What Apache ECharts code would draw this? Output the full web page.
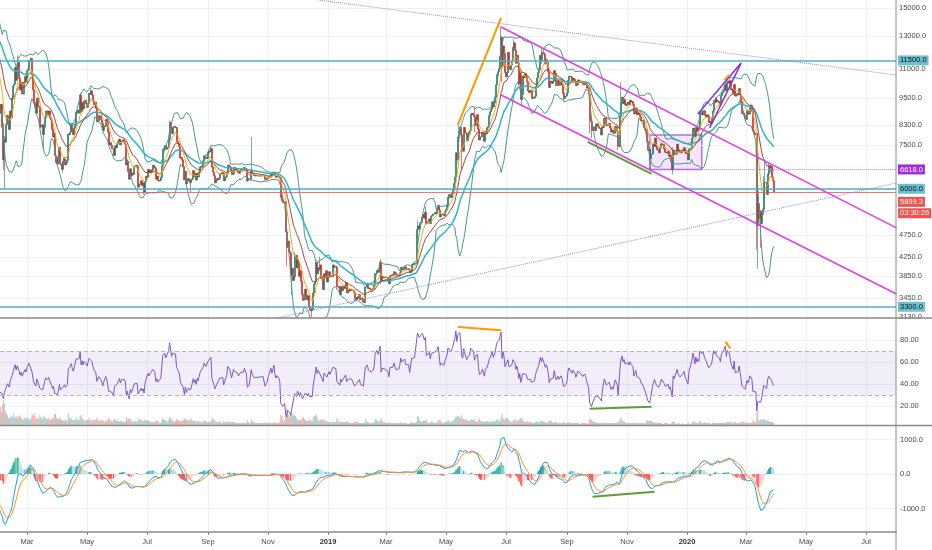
<!DOCTYPE html>
<html><head><meta charset="utf-8">
<script src="https://cdn.jsdelivr.net/npm/echarts@6/dist/echarts.min.js"></script>
<style>html,body{margin:0;padding:0;background:#fff;overflow:hidden}#c{width:932px;height:550px}</style>
</head><body><div id="c"></div><script>
// ---------------- DATA (BTC/USD daily, read/estimated from the chart) ----------------
// warm-up closes before the visible window (needed for the moving averages / RSI / MACD)
const closeDec2017 = [10850,10950,11250,11600,11700,13700,16900,16300,14900,15200,16700,17200,16400,16500,17600,19400,19100,18900,17500,16500,15600,13800,14600,13900,13900,15800,15400,14400,14400,12600,13900];
// daily closes, one inner array per month
const close2018 = [
 [13400,14750,15150,15180,16900,17100,16200,14900,14400,14900,13300,13800,14200,13600,13600,11400,11200,11500,11800,12900,11600,10900,11000,11400,11200,11100,11500,11800,11300,10100,10200],
 [9200,8800,9200,8200,6950,7700,7600,8300,8700,8600,8100,8900,8600,9500,10100,10200,11100,10400,11100,11400,10500,9900,10300,9700,9700,10300,10600,10300],
 [10900,11000,11500,11500,11600,10700,9900,9300,9200,8800,9500,9100,9100,8200,8250,8300,7900,8200,8600,8900,8900,8700,8900,8600,8500,8100,7800,7950,7100,6850,6950],
 [6800,7050,7400,6800,6780,6620,6900,7020,6770,6830,6930,7920,7890,8000,8360,8060,7890,8160,8280,8850,8920,8800,8950,9650,8870,9280,8990,9350,9390,9240],
 [9070,9220,9740,9700,9860,9650,9370,9190,9310,9010,8420,8470,8690,8680,8500,8350,8060,8250,8240,8520,8400,8000,7500,7580,7480,7350,7350,7100,7460,7380,7490],
 [7530,7640,7720,7500,7630,7650,7690,7620,7520,6770,6900,6550,6300,6640,6400,6500,6450,6710,6740,6760,6720,6050,6130,6150,6250,6090,6160,5900,6220,6400],
 [6360,6620,6510,6600,6530,6600,6760,6710,6660,6300,6390,6250,6240,6270,6360,6740,7320,7380,7470,7330,7400,7400,7720,8400,8170,7940,8180,8230,8210,8180,7730],
 [7620,7540,7420,7010,7030,6940,6720,6280,6550,6150,6240,6320,6260,6190,6270,6310,6580,6390,6490,6270,6480,6370,6530,6700,6730,6690,6900,7090,7040,6980,7020],
 [7190,7270,7260,7360,6700,6530,6410,6180,6250,6320,6280,6330,6490,6480,6520,6500,6250,6340,6380,6490,6770,6720,6700,6590,6450,6470,6690,6630,6590,6620],
 [6590,6520,6490,6590,6630,6590,6600,6680,6650,6580,6260,6290,6300,6300,6600,6490,6480,6420,6400,6420,6420,6400,6400,6420,6400,6410,6420,6410,6280,6290,6320],
 [6370,6390,6360,6480,6420,6470,6530,6420,6360,6390,6380,6360,6310,5740,5650,5600,5580,5620,4820,4460,4600,4370,4330,3880,4010,3770,3840,4260,4280,4020],
 [4200,4140,3850,3960,3760,3510,3410,3420,3610,3500,3420,3490,3300,3240,3230,3250,3540,3700,3750,4130,3900,4020,3990,4080,3810,3830,3600,3900,3830,3960,3740]
];
const close2019 = [
 [3850,3940,3840,3860,3840,4080,4030,4040,4040,3660,3660,3630,3510,3660,3580,3630,3670,3620,3730,3540,3560,3600,3580,3600,3590,3590,3550,3440,3410,3460,3440],
 [3470,3510,3420,3420,3440,3380,3370,3650,3650,3690,3620,3630,3610,3590,3600,3620,3670,3900,3910,3970,3930,3980,4140,3750,3840,3820,3820,3820],
 [3830,3830,3790,3710,3860,3870,3880,3870,3940,3920,3860,3880,3860,3870,3920,4030,3990,3980,4020,4040,3990,3990,4000,3990,3920,3940,4090,4080,4110,4110,4100],
 [4140,4880,4970,4900,5040,5060,5200,5270,5170,5330,5020,5060,5070,5150,5030,5220,5240,5280,5280,5320,5290,5400,5520,5390,5200,5270,5280,5270,5230,5350],
 [5400,5500,5750,5830,5780,5740,5860,5960,6160,6360,7200,6950,7800,7990,8200,7880,7360,7260,8190,7980,7950,7650,7880,7990,8060,8760,8800,8720,8660,8270,8550],
 [8560,8740,8120,7680,7790,7810,8000,7930,7630,8020,7920,8180,8230,8690,8860,8980,9320,9080,9270,9530,10160,10700,10860,11020,11760,12930,11160,12380,11910,10820],
 [10580,10800,11980,11150,10980,11230,11450,12290,12570,12100,11340,11800,11350,10200,10850,9430,9680,10630,10530,10760,10590,10320,9850,9770,9880,9840,9480,9530,9500,9590,10090],
 [10400,10520,10820,10980,11800,11470,11950,11960,11860,11290,11550,11380,10860,10020,10300,10360,10230,10340,10920,10770,10130,10130,10400,10140,10140,10370,10190,9720,9480,9580,9600],
 [9760,10390,10620,10590,10580,10320,10500,10440,10340,10120,10160,10420,10360,10360,10310,10260,10190,10160,10270,10180,9990,10030,9700,8530,8430,8060,8190,8210,8050,8310],
 [8300,8340,8220,8150,8150,7880,8210,8190,8590,8590,8270,8300,8280,8360,8160,8000,8080,7960,7950,8230,8220,8030,7470,7430,8660,9260,9550,9250,9430,9180,9150],
 [9250,9310,9190,9400,9310,9340,9200,8770,8810,9040,8730,8820,8760,8640,8460,8490,8500,8180,8120,8080,7620,7290,7320,6980,7150,7160,7530,7440,7760,7570],
 [7420,7320,7300,7200,7400,7540,7510,7520,7340,7220,7200,7190,7260,7070,7120,6880,6620,7290,7150,7190,7150,7520,7320,7250,7200,7200,7250,7320,7390,7220,7170]
];
const close2020 = [
 [7180,6950,7340,7350,7360,7760,8160,8050,7820,8200,8030,8190,8110,8820,8820,8720,8900,8910,8700,8630,8730,8680,8400,8440,8340,8600,8900,9390,9290,9510,9350],
 [9390,9340,9290,9180,9620,9750,9810,9910,10170,9860,10270,10360,10240,10370,9900,9930,9700,10180,9600,9610,9690,9670,9970,9650,9310,8790,8810,8710,8560],
 [8530,8910,8760,8760,9070,9150,8900,8040,7940,7890,7940,4970,5560,5170,5360,5030,5330,5410,6190,6190,6190,5830,6470,6740,6680,6730,6370,6250,5899.3]
];
// notable wicks: [date, high, low]
const wicks = [
 ['2018-02-05',8400,6600],['2018-02-06',7850,6000],['2018-02-20',11800,11100],['2018-03-05',11700,11400],
 ['2018-03-18',8300,7300],['2018-04-06',6900,6500],['2018-04-25',9750,8750],['2018-05-05',9990,9650],
 ['2018-06-28',6200,5830],['2018-07-24',8480,7700],['2018-08-14',6300,5880],['2018-09-04',7400,7230],
 ['2018-10-11',6600,6200],['2018-10-15',7800,6250],['2018-11-20',4860,4050],['2018-11-25',4100,3500],
 ['2018-11-28',4350,3800],['2018-12-15',3280,3130],['2018-12-20',4200,3700],['2018-12-24',4250,3950],
 ['2019-01-10',4060,3600],['2019-02-24',4200,3700],['2019-04-02',5100,4100],['2019-04-10',5470,5150],
 ['2019-05-14',8300,7600],['2019-05-17',7950,6600],['2019-05-30',9100,8000],['2019-06-26',13650,11400],
 ['2019-06-27',13000,10300],['2019-07-09',12800,12100],['2019-07-17',9900,9100],['2019-08-06',12300,11300],
 ['2019-08-29',9700,9320],['2019-09-24',9800,7950],['2019-09-26',8500,7750],['2019-10-23',8050,7300],
 ['2019-10-26',10300,8950],['2019-11-25',7350,6550],['2019-12-18',7400,6450],['2020-01-14',8880,8100],
 ['2020-02-13',10500,10100],['2020-03-07',9200,8850],['2020-03-12',7970,4400],['2020-03-13',5950,4000],
 ['2020-03-16',5380,4450],['2020-03-19',6400,5250],['2020-03-20',6880,5700],['2020-03-24',6850,6400],
 ['2020-03-26',6790,6520]
];
// daily volume (relative units), from Feb 2018
const volume2018 = [
 [30,36,24,40,50,44,26,24,20,14,14,16,14,18,22,14,16,18,14,16,20,18,14,12,10,14,14,12],
 [16,12,12,10,14,20,22,18,24,12,14,14,12,20,16,14,12,18,16,14,12,12,14,10,10,12,14,12,22,22,14],
 [12,12,14,12,10,10,8,8,12,8,8,24,14,12,14,10,10,10,10,16,12,10,10,18,20,14,12,10,8,10],
 [10,10,14,10,10,8,12,10,10,10,16,12,8,10,8,10,10,8,6,8,8,10,14,12,10,8,6,10,12,10,8],
 [8,8,6,8,8,6,6,6,6,16,10,12,14,12,8,6,6,8,8,8,6,14,10,12,12,8,8,10,10,10],
 [8,10,8,8,6,6,6,6,6,10,8,8,6,4,4,10,14,12,10,10,8,6,10,16,14,10,10,8,6,8,12],
 [10,8,8,8,6,8,10,14,10,12,10,8,10,14,12,8,10,8,6,8,8,8,6,8,6,4,6,10,8,8,6],
 [6,6,6,8,16,12,10,10,6,6,6,6,8,6,4,4,8,6,6,6,8,6,4,6,6,6,6,6,4,4],
 [4,4,4,4,4,4,4,4,4,4,10,6,4,4,12,8,6,6,4,4,4,4,4,4,4,4,4,4,6,4,4],
 [4,4,4,4,4,4,6,6,4,4,4,4,6,20,18,12,8,8,24,34,22,20,14,18,28,22,18,20,18,14],
 [10,8,12,10,10,14,16,12,10,8,8,8,10,12,8,8,16,18,18,22,16,10,8,10,12,10,10,12,8,8,8]
];
const volume2019 = [
 [6,6,6,6,4,8,6,6,6,14,10,6,6,8,6,6,6,6,6,8,6,6,4,4,4,4,4,8,6,6,6],
 [4,4,4,4,4,4,4,12,8,6,6,4,4,4,4,4,6,12,12,8,8,6,10,14,8,6,6,6],
 [4,4,4,6,6,4,4,4,4,4,4,4,4,4,4,6,4,4,4,4,4,4,2,2,4,4,6,4,4,4,4],
 [6,18,16,10,8,6,8,8,8,10,10,6,4,4,6,6,6,6,4,4,4,6,10,10,10,8,4,4,6,6],
 [6,6,10,8,6,6,8,8,10,12,18,16,18,18,14,14,20,12,12,12,10,10,10,8,8,10,12,10,8,12,8],
 [6,6,10,12,8,8,8,6,6,8,6,8,6,8,6,6,8,8,6,8,10,12,10,8,8,16,22,14,10,12],
 [14,14,12,10,8,6,6,8,10,10,12,8,8,10,12,14,14,10,8,6,6,6,8,6,6,6,6,4,4,4,6],
 [6,6,6,4,8,8,8,6,6,6,4,4,6,8,10,8,6,4,6,6,6,4,4,4,4,4,4,6,6,4,4],
 [4,6,6,4,4,4,4,4,4,4,4,4,4,2,2,4,4,4,4,4,4,2,4,14,10,10,8,6,6,6],
 [4,4,4,4,4,4,4,4,6,4,4,4,4,4,4,4,4,4,4,4,4,4,8,6,12,16,10,8,6,6,4],
 [4,4,4,4,4,4,4,6,4,4,4,4,4,4,4,4,4,4,4,4,8,10,8,8,10,8,6,6,4,4],
 [4,4,4,4,4,4,2,2,4,4,4,4,2,2,2,4,6,8,6,4,2,2,4,4,2,2,4,2,2,2,2]
];
const volume2020 = [
 [2,4,4,2,2,4,6,8,4,6,4,4,4,8,8,4,4,4,6,4,4,4,4,4,2,2,4,6,4,4,4],
 [4,4,4,4,4,4,4,4,4,6,6,6,6,6,6,4,4,6,6,4,4,4,4,4,6,8,6,6,4],
 [4,6,4,4,4,4,4,8,10,6,6,26,30,10,8,12,10,10,12,12,8,8,10,8,6,6,6,6,4]
];
// axis tick labels
const priceTicks = [15000,13000,11000,9500,8300,7500,6000,4750,4250,3850,3450,3130];
const rsiTicks = [20,40,60,80];
const macdTicks = [-1000,0,1000];
const monthTicks = ['2018-03-01','2018-05-01','2018-07-01','2018-09-01','2018-11-01','2019-01-01','2019-03-01','2019-05-01','2019-07-01','2019-09-01','2019-11-01','2020-01-01','2020-03-01','2020-05-01','2020-07-01'];
// horizontal levels and live price
const levelPrices = [11500, 6000, 3300];
const rangeLevel = 6618;
const lastPrice = 5899.3;
const countdown = '03:30:26';
// drawings (date, value)
const trendTopDotted = [['2018-12-22',15620],['2020-08-01',10680]];
const trendLowDotted = [['2018-11-10',3117],['2020-08-01',6180]];
const orangeRally = [['2019-05-13',8290],['2019-06-26',14260]];
const channelUpper = [['2019-06-26',13620],['2020-08-01',4920]];
const channelLower = [['2019-06-26',9650],['2020-08-01',3520]];
const greenPrice = [['2019-09-22',7610],['2019-11-26',6470]];
const rangeBox = [['2019-11-24',6618],['2020-01-16',7880]];
const wedgeUpper = [['2020-01-12',8765],['2020-02-25',11345]];
const wedgeLower = [['2020-01-24',8165],['2020-02-25',11345]];
const orangeSmall = [['2020-02-08',10420],['2020-02-13',10680]];
const rsiOrange = [['2019-05-13',91.8],['2019-06-26',89]];
const rsiGreen = [['2019-09-24',17.8],['2019-11-26',19.6]];
const rsiOrangeSmall = [['2020-02-09',78.5],['2020-02-14',72.5]];
const macdGreen = [['2019-09-27',-658],['2019-11-29',-513]];

// ---------------- BUILD ----------------
const MONTHS = ['Jan','Feb','Mar','Apr','May','Jun','Jul','Aug','Sep','Oct','Nov','Dec'];
const T = s => { const p = s.split('-').map(Number); return Date.UTC(p[0], p[1] - 1, p[2]); };
const X_MIN = Date.UTC(2018, 1, 1, 13);
const X_MAX = Date.UTC(2020, 6, 31, 12);
const FONT = 'Liberation Sans';
const FS = 7.5;
const LBL = '#4a4a4a';
const GRIDC = '#eef0f4';

const days = [];
function addMonths(year, firstMonth, months) {
  months.forEach((arr, k) => arr.forEach((c, i) => days.push({ t: Date.UTC(year, firstMonth + k, i + 1), c })));
}
addMonths(2017, 11, [closeDec2017]);
addMonths(2018, 0, close2018);
addMonths(2019, 0, close2019);
addMonths(2020, 0, close2020);
const n = days.length;
const closes = days.map(d => d.c);
const visStart = days.findIndex(d => d.t >= Date.UTC(2018, 1, 1));
const vols = [].concat(...volume2018, ...volume2019, ...volume2020);
const wickMap = {};
wicks.forEach(w => { wickMap[T(w[0])] = w; });

function ema(v, len) {
  const a = 2 / (len + 1); const out = []; let e = v[0];
  v.forEach((x, i) => { e = i === 0 ? x : a * x + (1 - a) * e; out.push(e); });
  return out;
}
const ema9 = ema(closes, 9), ema21 = ema(closes, 21), ema50 = ema(closes, 50);
const bbUp = [], bbLo = [];
for (let i = 0; i < n; i++) {
  if (i < 19) { bbUp.push(null); bbLo.push(null); continue; }
  let s = 0; for (let k = i - 19; k <= i; k++) s += closes[k];
  const m = s / 20; let q = 0; for (let k = i - 19; k <= i; k++) q += (closes[k] - m) ** 2;
  const sd = Math.sqrt(q / 20); bbUp.push(m + 2 * sd); bbLo.push(m - 2 * sd);
}
const rsi = new Array(n).fill(null);
{ let ag = 0, al = 0;
  for (let i = 1; i < n; i++) {
    const ch = closes[i] - closes[i - 1]; const g = Math.max(ch, 0), l = Math.max(-ch, 0);
    if (i <= 14) { ag += g / 14; al += l / 14; if (i < 14) continue; }
    else { ag = (ag * 13 + g) / 14; al = (al * 13 + l) / 14; }
    rsi[i] = al === 0 ? 100 : 100 - 100 / (1 + ag / al);
  } }
const e12 = ema(closes, 12), e26 = ema(closes, 26);
const macd = e12.map((v, i) => v - e26[i]);
const sig = ema(macd, 9);
const hist = macd.map((v, i) => v - sig[i]);

const s0 = visStart - 1;
const pick = arr => { const out = []; for (let i = s0; i < n; i++) out.push([days[i].t, arr[i]]); return out; };

const candles = [], volBars = [], histBars = [];
for (let i = visStart; i < n; i++) {
  const t = days[i].t, o = closes[i - 1], c = closes[i];
  const w = wickMap[t];
  const hi = Math.max(o, c, w ? w[1] : 0), lo = Math.min(o, c, w ? w[2] : Infinity);
  candles.push([t, o, c, lo, hi]);
  const v = vols[i - visStart];
  if (v != null) volBars.push({ value: [t, v], itemStyle: { color: c >= o ? 'rgba(38,166,154,0.45)' : 'rgba(239,83,80,0.45)' } });
  const h = hist[i], p = hist[i - 1];
  const hc = h >= 0 ? (h >= p ? '#26a69a' : '#b2dfdb') : (h < p ? '#ff5252' : '#ffcdd2');
  histBars.push({ value: [t, h], itemStyle: { color: hc } });
}

const toPts = arr => arr.map(p => [T(p[0]), p[1]]);
function seg(name, pts, color, width, type, xi, yi) {
  return { type: 'line', name, data: toPts(pts), xAxisIndex: xi || 0, yAxisIndex: yi || 0, symbol: 'none', silent: true, z: 6,
    lineStyle: { color, width, type: type || 'solid' } };
}
function ind(name, arr, color, width, z) {
  return { type: 'line', name, data: pick(arr), xAxisIndex: 0, yAxisIndex: 0, symbol: 'none', silent: true, z: z || 3,
    lineStyle: { color, width } };
}

const timeFmt = v => { const d = new Date(v); const m = d.getUTCMonth(); return m === 0 ? '{y|' + d.getUTCFullYear() + '}' : MONTHS[m]; };
const monthTimes = monthTicks.map(T);
function xAxisFor(gi, show) {
  return {
    type: 'value', gridIndex: gi, min: X_MIN, max: X_MAX, scale: true,
    axisLine: { show: show, onZero: false, lineStyle: { color: '#8a8a8a', width: 1.5 } },
    axisTick: { show: show, customValues: monthTimes, length: 3, lineStyle: { color: '#8a8a8a' } },
    axisLabel: { show: show, customValues: monthTimes, formatter: timeFmt, margin: 6, color: LBL, fontSize: FS, fontFamily: FONT,
      rich: { y: { fontWeight: 'bold', fontSize: FS, color: '#333', fontFamily: FONT } } },
    splitLine: { show: true, lineStyle: { color: GRIDC, width: 1 } }
  };
}
const TEAL = '#4fb1c4', TEAL_BG = '#6cc1d0';
function levelItem(v) {
  return { yAxis: v, lineStyle: { color: TEAL, width: 1.5, type: 'solid' },
    label: { formatter: v.toFixed(1), backgroundColor: TEAL_BG, color: '#111', padding: [1, 2, 1, 2] } };
}

const option = {
  animation: false,
  backgroundColor: '#ffffff',
  textStyle: { fontFamily: FONT },
  grid: [
    { left: 0, right: 36, top: 0, height: 318 },
    { left: 0, right: 36, top: 318, height: 107 },
    { left: 0, right: 36, top: 426, height: 106 }
  ],
  xAxis: [xAxisFor(0, false), xAxisFor(1, false), xAxisFor(2, true)],
  yAxis: [
    { type: 'log', gridIndex: 0, min: 3117, max: 15620, position: 'right', axisLine: { show: false }, axisTick: { show: false }, axisLabel: { show: false }, splitLine: { show: false } },
    { type: 'value', gridIndex: 1, min: 3, max: 100, position: 'right', axisLine: { show: false },
      axisTick: { show: false, customValues: rsiTicks },
      axisLabel: { customValues: rsiTicks, formatter: v => v.toFixed(2), margin: 4, color: LBL, fontSize: FS, fontFamily: FONT },
      splitLine: { show: true, lineStyle: { color: GRIDC } } },
    { type: 'value', gridIndex: 1, min: 0, max: 214, show: false, splitLine: { show: false } },
    { type: 'value', gridIndex: 2, min: -1681, max: 1391, position: 'right', axisLine: { show: false },
      axisTick: { show: false, customValues: macdTicks },
      axisLabel: { customValues: macdTicks, formatter: v => v.toFixed(1), margin: 4, color: LBL, fontSize: FS, fontFamily: FONT },
      splitLine: { show: true, lineStyle: { color: GRIDC } } }
  ],
  graphic: [
    { type: 'line', shape: { x1: 0, y1: 318, x2: 932, y2: 318 }, style: { stroke: '#8a8a8a', lineWidth: 1.5 }, z: 100 },
    { type: 'line', shape: { x1: 0, y1: 425.5, x2: 932, y2: 425.5 }, style: { stroke: '#8a8a8a', lineWidth: 1.5 }, z: 100 },
    { type: 'line', shape: { x1: 896, y1: 0, x2: 896, y2: 550 }, style: { stroke: '#8a8a8a', lineWidth: 1 }, z: 100 }
  ],
  series: [
    { type: 'line', name: 'priceGrid', xAxisIndex: 0, yAxisIndex: 0, data: [[X_MIN, 6000]], symbol: 'none', lineStyle: { opacity: 0 }, silent: true,
      markLine: { z: 1, silent: true, symbol: 'none', animation: false,
        lineStyle: { color: GRIDC, width: 1, type: 'solid' },
        label: { position: 'end', distance: 3, formatter: p => Number(p.value).toFixed(1), color: LBL, fontSize: FS, fontFamily: FONT },
        emphasis: { disabled: true },
        data: priceTicks.map(v => ({ yAxis: v })) } },
    { type: 'line', name: 'bbBase', data: pick(bbLo), xAxisIndex: 0, yAxisIndex: 0, stack: 'bb', symbol: 'none', silent: true, lineStyle: { opacity: 0 }, z: 2 },
    { type: 'line', name: 'bbFill', data: pick(bbUp.map((u, i) => u == null ? null : u - bbLo[i])), xAxisIndex: 0, yAxisIndex: 0, stack: 'bb', symbol: 'none', silent: true,
      lineStyle: { opacity: 0 }, areaStyle: { color: 'rgba(110,185,205,0.13)' }, z: 2 },
    { type: 'candlestick', name: 'BTCUSD', data: candles, xAxisIndex: 0, yAxisIndex: 0, encode: { x: 0, y: [1, 2, 3, 4] },
      large: false, barWidth: 1.5, silent: true, z: 3,
      itemStyle: { color: '#1d7762', color0: '#cc2424', borderColor: '#1d7762', borderColor0: '#cc2424', borderWidth: 0.6 } },
    ind('bbUpper', bbUp, '#4a958e', 1, 4),
    ind('bbLower', bbLo, '#4a958e', 1, 4),
    ind('ema50', ema50, '#2db3cc', 1.5, 4),
    ind('ema21', ema21, '#a4453f', 1, 4),
    ind('ema9', ema9, '#f2aa1f', 1, 4),
    { type: 'line', name: 'levels', xAxisIndex: 0, yAxisIndex: 0, data: [[X_MIN, 6000]], symbol: 'none', lineStyle: { opacity: 0 }, silent: true,
      markLine: { silent: true, symbol: 'none', animation: false,
        label: { position: 'end', distance: 2, fontSize: FS, fontFamily: FONT },
        emphasis: { disabled: true },
        data: [
          ...levelPrices.map(levelItem),
          { yAxis: lastPrice, lineStyle: { color: '#ef5350', width: 0.8, type: 'solid' },
            label: { formatter: () => '{p|' + lastPrice.toFixed(1) + '}\n{q|' + countdown + '}', verticalAlign: 'top', padding: [4, 0, 0, 0],
              rich: { p: { backgroundColor: '#ef5350', color: '#fff', padding: [1, 2, 1, 2], fontSize: FS, lineHeight: 11.5, fontFamily: FONT },
                      q: { backgroundColor: '#ef5350', color: '#fff', padding: [1, 2, 1, 2], fontSize: FS, lineHeight: 11.5, fontFamily: FONT } } } },
          [ { coord: [T(rangeBox[1][0]), rangeLevel], lineStyle: { color: '#b57fe6', width: 1, type: 'dotted' },
              label: { formatter: rangeLevel.toFixed(1), backgroundColor: '#9c2fd6', color: '#fff', padding: [1, 2, 1, 2] } },
            { coord: [X_MAX, rangeLevel] } ]
        ] },
      markArea: { silent: true, itemStyle: { color: 'rgba(175,95,235,0.16)', borderColor: '#b86ee8', borderWidth: 1.5 },
        data: [[ { coord: [T(rangeBox[0][0]), rangeBox[0][1]] }, { coord: [T(rangeBox[1][0]), rangeBox[1][1]] } ]] } },
    seg('topDotted', trendTopDotted, '#9a86e0', 1, 'dotted'),
    seg('lowDotted', trendLowDotted, '#9a86e0', 1, 'dotted'),
    seg('orangeRally', orangeRally, '#ff9800', 2),
    seg('channelUpper', channelUpper, '#e33ee6', 1.5),
    seg('channelLower', channelLower, '#e33ee6', 1.5),
    seg('greenPrice', greenPrice, '#5e9e34', 2),
    seg('wedgeUpper', wedgeUpper, '#8a2be2', 1.5),
    seg('wedgeLower', wedgeLower, '#8a2be2', 1.5),
    seg('orangeSmall', orangeSmall, '#ff9800', 2),
    { type: 'bar', name: 'volume', data: volBars, xAxisIndex: 1, yAxisIndex: 2, barWidth: 1, silent: true, z: 2 },
    { type: 'line', name: 'RSI', data: pick(rsi), xAxisIndex: 1, yAxisIndex: 1, symbol: 'none', silent: true, z: 4,
      lineStyle: { color: '#7e57c2', width: 1 },
      markArea: { silent: true, itemStyle: { color: 'rgba(126,87,194,0.1)' }, data: [[{ yAxis: 30 }, { yAxis: 70 }]] },
      markLine: { silent: true, symbol: 'none', label: { show: false }, emphasis: { disabled: true },
        lineStyle: { color: '#b9b0c9', type: [4, 3], width: 1 }, data: [{ yAxis: 70 }, { yAxis: 30 }] } },
    seg('rsiOrange', rsiOrange, '#ff9800', 2, 'solid', 1, 1),
    seg('rsiGreen', rsiGreen, '#5e9e34', 2, 'solid', 1, 1),
    seg('rsiOrangeSmall', rsiOrangeSmall, '#ff9800', 2, 'solid', 1, 1),
    { type: 'bar', name: 'hist', data: histBars, xAxisIndex: 2, yAxisIndex: 3, barWidth: 1.1, silent: true, z: 2 },
    { type: 'line', name: 'MACD', data: pick(macd), xAxisIndex: 2, yAxisIndex: 3, symbol: 'none', silent: true, z: 4, lineStyle: { color: '#2196f3', width: 1 } },
    { type: 'line', name: 'Signal', data: pick(sig), xAxisIndex: 2, yAxisIndex: 3, symbol: 'none', silent: true, z: 4, lineStyle: { color: '#ff8f1f', width: 1 } },
    seg('macdGreen', macdGreen, '#5e9e34', 2, 'solid', 2, 3)
  ]
};
const chart = echarts.init(document.getElementById('c'), null, { renderer: 'canvas' });
chart.setOption(option);
</script></body></html>
